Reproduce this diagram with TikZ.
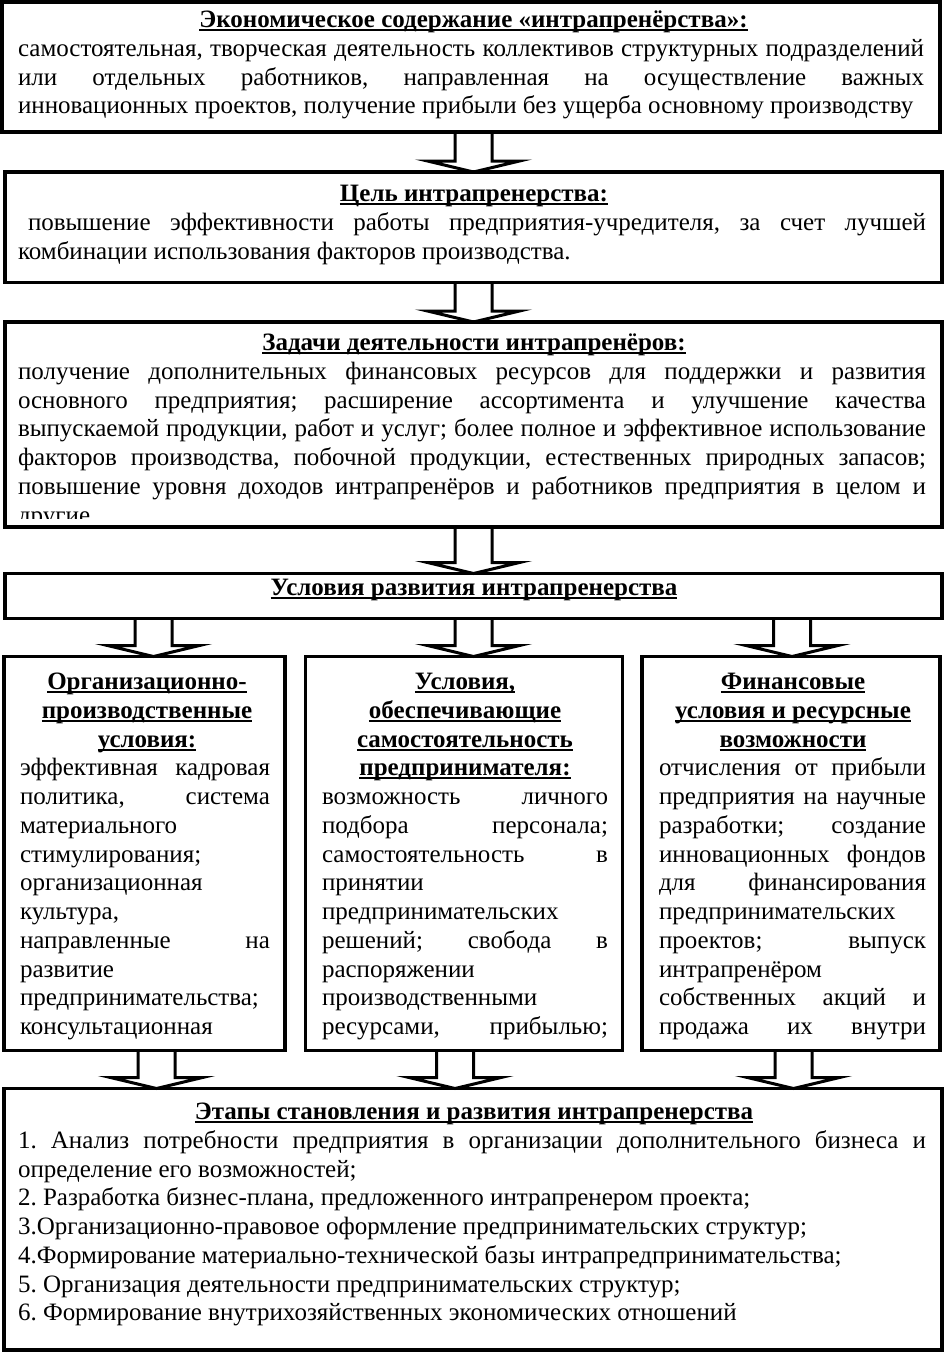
\documentclass[tikz,border=0pt]{standalone}
\usepackage{fontspec}
\setmainfont{Liberation Serif}
\usetikzlibrary{calc}
\frenchspacing
\newcommand\myul[1]{\setbox0\hbox{#1}\rlap{\rule[-3.5pt]{\wd0}{1.8pt}}\box0}
\newcommand\J[2]{\makebox[#1pt][s]{\strut #2}}
\newcommand\Lf[1]{\strut #1}
\newcommand\hollowarrow[3]{%
  \draw[arrline] let \p1=(#1.south), \p2=(#2.north) in
    ({(#3-18.5)*1pt},\y1) -- ({(#3-18.5)*1pt},{\y2+11pt}) -- ({(#3-46)*1pt},{\y2+11pt})
    -- ({#3*1pt},\y2) -- ({(#3+46)*1pt},{\y2+11pt}) -- ({(#3+18.5)*1pt},{\y2+11pt})
    -- ({(#3+18.5)*1pt},\y1);}
\tikzset{
  box/.style={draw, line width=3.2pt, inner sep=0pt, outer sep=0pt, rectangle},
  txt/.style={inner sep=0pt, outer sep=0pt, align=left, anchor=north west, font=\fontsize{25}{28.75}\selectfont\frenchspacing},
  ttl/.style={inner sep=0pt, outer sep=0pt, align=center, anchor=north, font=\fontsize{25}{28.75}\selectfont\bfseries\frenchspacing},
  arrline/.style={draw, line width=3pt, line join=miter}
}
\begin{document}
\begin{tikzpicture}[x=1pt,y=-1pt]
\useasboundingbox (0,0) rectangle (944,1353);
% boxes
\node[box, minimum width=938pt, minimum height=130pt] (b1) at (471,67) {};
\node[box, minimum width=937pt, minimum height=110.5pt] (b2) at (473.5,227.25) {};
\node[box, minimum width=937pt, minimum height=205pt] (b3) at (473.5,424.5) {};
\node[box, minimum width=937pt, minimum height=45pt] (b4) at (473.5,596) {};
\node[box, minimum width=281pt, minimum height=394pt] (cL) at (144.5,853.5) {};
\node[box, minimum width=317pt, minimum height=394pt] (cM) at (464,853.5) {};
\node[box, minimum width=298pt, minimum height=394pt] (cR) at (791,853.5) {};
\node[box, minimum width=938pt, minimum height=261.5pt] (b5) at (473,1219.25) {};
% box 1
\node[ttl] (t1) at (473.5,7.375) {\strut\myul{Экономическое содержание «интрапренёрства»:}};
\node[txt] (x1) at (18,36.125) {\J{906}{самостоятельная, творческая деятельность коллективов структурных подразделений}\\
\J{906}{или отдельных работников, направленная на осуществление важных}\\
\Lf{инновационных проектов, получение прибыли без ущерба основному производству}};
% box 2
\node[ttl] (t2) at (474,181.375) {\strut\myul{Цель интрапренерства:}};
\node[txt] (x2) at (18,210.125) {\hspace*{10pt}\J{898}{повышение эффективности работы предприятия-учредителя, за счет лучшей}\\
\Lf{комбинации использования факторов производства.}};
% box 3
\node[ttl] (t3) at (474,330.375) {\strut\myul{Задачи деятельности интрапренёров:}};
\begin{scope}
\clip (5,322) rectangle (942,518);
\node[txt] (x3) at (18,359.125) {\J{908}{получение дополнительных финансовых ресурсов для поддержки и развития}\\
\J{908}{основного предприятия; расширение ассортимента и улучшение качества}\\
\J{908}{выпускаемой продукции, работ и услуг; более полное и эффективное использование}\\
\J{908}{факторов производства, побочной продукции, естественных природных запасов;}\\
\J{908}{повышение уровня доходов интрапренёров и работников предприятия в целом и}\\
\Lf{другие}};
\end{scope}
% box 4
\node[ttl] (t4) at (474,575.375) {\strut\myul{Условия развития интрапренерства}};
% left column
\node[ttl] (tL) at (147,669.375) {\strut\myul{Организационно-}\\\strut\myul{производственные}\\\strut\myul{условия:}};
\node[txt] (xL) at (20,755.625) {\J{250}{эффективная кадровая}\\
\J{250}{политика, система}\\
\Lf{материального}\\
\Lf{стимулирования;}\\
\Lf{организационная}\\
\Lf{культура,}\\
\J{250}{направленные на}\\
\Lf{развитие}\\
\Lf{предпринимательства;}\\
\Lf{консультационная}};
% middle column
\node[ttl] (tM) at (465,669.375) {\strut\myul{Условия,}\\\strut\myul{обеспечивающие}\\\strut\myul{самостоятельность}\\\strut\myul{предпринимателя:}};
\node[txt] (xM) at (322,784.375) {\J{286}{возможность личного}\\
\J{286}{подбора персонала;}\\
\J{286}{самостоятельность в}\\
\Lf{принятии}\\
\Lf{предпринимательских}\\
\J{286}{решений; свобода в}\\
\Lf{распоряжении}\\
\Lf{производственными}\\
\J{286}{ресурсами, прибылью;}};
% right column
\node[ttl] (tR) at (793,669.375) {\strut\myul{Финансовые}\\\strut\myul{условия и ресурсные}\\\strut\myul{возможности}};
\node[txt] (xR) at (659,755.625) {\J{267}{отчисления от прибыли}\\
\J{267}{предприятия на научные}\\
\J{267}{разработки; создание}\\
\J{267}{инновационных фондов}\\
\J{267}{для финансирования}\\
\Lf{предпринимательских}\\
\J{267}{проектов; выпуск}\\
\Lf{интрапренёром}\\
\J{267}{собственных акций и}\\
\J{267}{продажа их внутри}};
% bottom box
\node[ttl] (t5) at (474,1099.375) {\strut\myul{Этапы становления и развития интрапренерства}};
\node[txt] (x5) at (18,1128.125) {\J{908}{1. Анализ потребности предприятия в организации дополнительного бизнеса и}\\
\Lf{определение его возможностей;}\\
\Lf{2. Разработка бизнес-плана, предложенного интрапренером проекта;}\\
\Lf{3.Организационно-правовое оформление предпринимательских структур;}\\
\Lf{4.Формирование материально-технической базы интрапредпринимательства;}\\
\Lf{5. Организация деятельности предпринимательских структур;}\\
\Lf{6. Формирование внутрихозяйственных экономических отношений}};
% arrows
\hollowarrow{b1}{b2}{473.5}
\hollowarrow{b2}{b3}{473.5}
\hollowarrow{b3}{b4}{473.5}
\hollowarrow{b4}{cL}{153.5}
\hollowarrow{b4}{cM}{473.5}
\hollowarrow{b4}{cR}{792}
\hollowarrow{cL}{b5}{156.5}
\hollowarrow{cM}{b5}{455}
\hollowarrow{cR}{b5}{793.5}
\end{tikzpicture}
\end{document}
